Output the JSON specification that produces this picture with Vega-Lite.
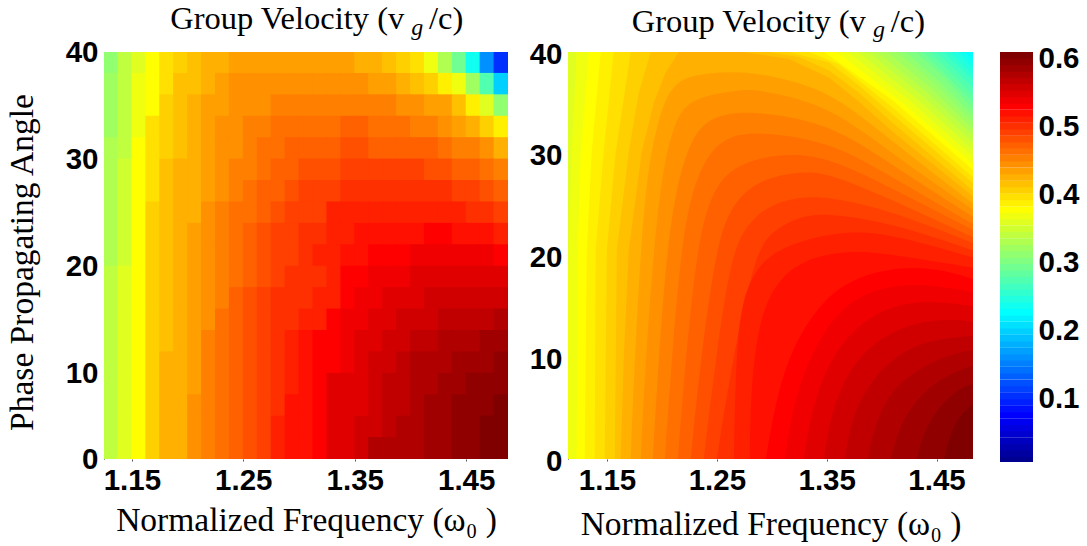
{"$schema":"https://vega.github.io/schema/vega-lite/v6.json","background":"white","padding":{"left":5,"top":2,"right":4,"bottom":3},
"config":{"view":{"stroke":null},"axis":{"grid":false,"labelFont":"Liberation Sans","labelFontWeight":"bold","labelFontSize":29.5,"labelColor":"#000","titleFont":"Liberation Serif","titleFontWeight":"normal","titleFontSize":33.5,"titleColor":"#000","domainColor":"#222","tickColor":"#555"}},
"spacing":27,
"hconcat":[{"spacing":60,"bounds":"flush","hconcat":[
{"width":404,"height":407,
"layer":[{"mark":{"type":"rect","width":15,"height":22.4,"clip":true},
"data":{"values":[
{"f":1.1313,"a":39,"v":0.307},{"f":1.1438,"a":39,"v":0.336},{"f":1.1563,"a":39,"v":0.355},{"f":1.1688,"a":39,"v":0.373},{"f":1.1813,"a":39,"v":0.392},{"f":1.1938,"a":39,"v":0.402},{"f":1.2063,"a":39,"v":0.411},{"f":1.2188,"a":39,"v":0.421},{"f":1.2313,"a":39,"v":0.421},{"f":1.2438,"a":39,"v":0.43},{"f":1.2563,"a":39,"v":0.43},{"f":1.2688,"a":39,"v":0.43},{"f":1.2813,"a":39,"v":0.43},{"f":1.2938,"a":39,"v":0.43},{"f":1.3063,"a":39,"v":0.43},{"f":1.3188,"a":39,"v":0.43},{"f":1.3313,"a":39,"v":0.43},{"f":1.3438,"a":39,"v":0.43},{"f":1.3563,"a":39,"v":0.421},{"f":1.3688,"a":39,"v":0.421},{"f":1.3813,"a":39,"v":0.411},{"f":1.3938,"a":39,"v":0.402},{"f":1.4063,"a":39,"v":0.392},{"f":1.4188,"a":39,"v":0.364},{"f":1.4313,"a":39,"v":0.326},{"f":1.4438,"a":39,"v":0.288},{"f":1.4563,"a":39,"v":0.232},{"f":1.4688,"a":39,"v":0.156},{"f":1.4813,"a":39,"v":0.099},
{"f":1.1313,"a":37,"v":0.317},{"f":1.1438,"a":37,"v":0.336},{"f":1.1563,"a":37,"v":0.364},{"f":1.1688,"a":37,"v":0.373},{"f":1.1813,"a":37,"v":0.392},{"f":1.1938,"a":37,"v":0.411},{"f":1.2063,"a":37,"v":0.411},{"f":1.2188,"a":37,"v":0.421},{"f":1.2313,"a":37,"v":0.43},{"f":1.2438,"a":37,"v":0.44},{"f":1.2563,"a":37,"v":0.44},{"f":1.2688,"a":37,"v":0.44},{"f":1.2813,"a":37,"v":0.44},{"f":1.2938,"a":37,"v":0.44},{"f":1.3063,"a":37,"v":0.44},{"f":1.3188,"a":37,"v":0.44},{"f":1.3313,"a":37,"v":0.44},{"f":1.3438,"a":37,"v":0.44},{"f":1.3563,"a":37,"v":0.44},{"f":1.3688,"a":37,"v":0.43},{"f":1.3813,"a":37,"v":0.43},{"f":1.3938,"a":37,"v":0.421},{"f":1.4063,"a":37,"v":0.411},{"f":1.4188,"a":37,"v":0.402},{"f":1.4313,"a":37,"v":0.383},{"f":1.4438,"a":37,"v":0.364},{"f":1.4563,"a":37,"v":0.317},{"f":1.4688,"a":37,"v":0.269},{"f":1.4813,"a":37,"v":0.194},
{"f":1.1313,"a":35,"v":0.317},{"f":1.1438,"a":35,"v":0.336},{"f":1.1563,"a":35,"v":0.364},{"f":1.1688,"a":35,"v":0.373},{"f":1.1813,"a":35,"v":0.402},{"f":1.1938,"a":35,"v":0.411},{"f":1.2063,"a":35,"v":0.421},{"f":1.2188,"a":35,"v":0.43},{"f":1.2313,"a":35,"v":0.43},{"f":1.2438,"a":35,"v":0.44},{"f":1.2563,"a":35,"v":0.44},{"f":1.2688,"a":35,"v":0.44},{"f":1.2813,"a":35,"v":0.449},{"f":1.2938,"a":35,"v":0.449},{"f":1.3063,"a":35,"v":0.449},{"f":1.3188,"a":35,"v":0.449},{"f":1.3313,"a":35,"v":0.449},{"f":1.3438,"a":35,"v":0.449},{"f":1.3563,"a":35,"v":0.449},{"f":1.3688,"a":35,"v":0.449},{"f":1.3813,"a":35,"v":0.449},{"f":1.3938,"a":35,"v":0.44},{"f":1.4063,"a":35,"v":0.44},{"f":1.4188,"a":35,"v":0.43},{"f":1.4313,"a":35,"v":0.43},{"f":1.4438,"a":35,"v":0.411},{"f":1.4563,"a":35,"v":0.383},{"f":1.4688,"a":35,"v":0.355},{"f":1.4813,"a":35,"v":0.307},
{"f":1.1313,"a":33,"v":0.317},{"f":1.1438,"a":33,"v":0.336},{"f":1.1563,"a":33,"v":0.364},{"f":1.1688,"a":33,"v":0.392},{"f":1.1813,"a":33,"v":0.402},{"f":1.1938,"a":33,"v":0.411},{"f":1.2063,"a":33,"v":0.421},{"f":1.2188,"a":33,"v":0.43},{"f":1.2313,"a":33,"v":0.44},{"f":1.2438,"a":33,"v":0.44},{"f":1.2563,"a":33,"v":0.449},{"f":1.2688,"a":33,"v":0.449},{"f":1.2813,"a":33,"v":0.459},{"f":1.2938,"a":33,"v":0.459},{"f":1.3063,"a":33,"v":0.459},{"f":1.3188,"a":33,"v":0.459},{"f":1.3313,"a":33,"v":0.459},{"f":1.3438,"a":33,"v":0.468},{"f":1.3563,"a":33,"v":0.468},{"f":1.3688,"a":33,"v":0.459},{"f":1.3813,"a":33,"v":0.459},{"f":1.3938,"a":33,"v":0.459},{"f":1.4063,"a":33,"v":0.449},{"f":1.4188,"a":33,"v":0.449},{"f":1.4313,"a":33,"v":0.44},{"f":1.4438,"a":33,"v":0.43},{"f":1.4563,"a":33,"v":0.421},{"f":1.4688,"a":33,"v":0.402},{"f":1.4813,"a":33,"v":0.383},
{"f":1.1313,"a":31,"v":0.326},{"f":1.1438,"a":31,"v":0.336},{"f":1.1563,"a":31,"v":0.373},{"f":1.1688,"a":31,"v":0.392},{"f":1.1813,"a":31,"v":0.402},{"f":1.1938,"a":31,"v":0.411},{"f":1.2063,"a":31,"v":0.421},{"f":1.2188,"a":31,"v":0.43},{"f":1.2313,"a":31,"v":0.44},{"f":1.2438,"a":31,"v":0.44},{"f":1.2563,"a":31,"v":0.449},{"f":1.2688,"a":31,"v":0.459},{"f":1.2813,"a":31,"v":0.459},{"f":1.2938,"a":31,"v":0.468},{"f":1.3063,"a":31,"v":0.468},{"f":1.3188,"a":31,"v":0.468},{"f":1.3313,"a":31,"v":0.468},{"f":1.3438,"a":31,"v":0.477},{"f":1.3563,"a":31,"v":0.477},{"f":1.3688,"a":31,"v":0.468},{"f":1.3813,"a":31,"v":0.468},{"f":1.3938,"a":31,"v":0.468},{"f":1.4063,"a":31,"v":0.468},{"f":1.4188,"a":31,"v":0.468},{"f":1.4313,"a":31,"v":0.459},{"f":1.4438,"a":31,"v":0.449},{"f":1.4563,"a":31,"v":0.449},{"f":1.4688,"a":31,"v":0.44},{"f":1.4813,"a":31,"v":0.421},
{"f":1.1313,"a":29,"v":0.326},{"f":1.1438,"a":29,"v":0.345},{"f":1.1563,"a":29,"v":0.373},{"f":1.1688,"a":29,"v":0.392},{"f":1.1813,"a":29,"v":0.411},{"f":1.1938,"a":29,"v":0.421},{"f":1.2063,"a":29,"v":0.421},{"f":1.2188,"a":29,"v":0.43},{"f":1.2313,"a":29,"v":0.44},{"f":1.2438,"a":29,"v":0.449},{"f":1.2563,"a":29,"v":0.449},{"f":1.2688,"a":29,"v":0.459},{"f":1.2813,"a":29,"v":0.468},{"f":1.2938,"a":29,"v":0.468},{"f":1.3063,"a":29,"v":0.477},{"f":1.3188,"a":29,"v":0.477},{"f":1.3313,"a":29,"v":0.477},{"f":1.3438,"a":29,"v":0.487},{"f":1.3563,"a":29,"v":0.487},{"f":1.3688,"a":29,"v":0.487},{"f":1.3813,"a":29,"v":0.487},{"f":1.3938,"a":29,"v":0.487},{"f":1.4063,"a":29,"v":0.487},{"f":1.4188,"a":29,"v":0.477},{"f":1.4313,"a":29,"v":0.477},{"f":1.4438,"a":29,"v":0.468},{"f":1.4563,"a":29,"v":0.468},{"f":1.4688,"a":29,"v":0.459},{"f":1.4813,"a":29,"v":0.449},
{"f":1.1313,"a":27,"v":0.326},{"f":1.1438,"a":27,"v":0.345},{"f":1.1563,"a":27,"v":0.373},{"f":1.1688,"a":27,"v":0.392},{"f":1.1813,"a":27,"v":0.411},{"f":1.1938,"a":27,"v":0.421},{"f":1.2063,"a":27,"v":0.421},{"f":1.2188,"a":27,"v":0.43},{"f":1.2313,"a":27,"v":0.44},{"f":1.2438,"a":27,"v":0.449},{"f":1.2563,"a":27,"v":0.459},{"f":1.2688,"a":27,"v":0.468},{"f":1.2813,"a":27,"v":0.468},{"f":1.2938,"a":27,"v":0.477},{"f":1.3063,"a":27,"v":0.487},{"f":1.3188,"a":27,"v":0.487},{"f":1.3313,"a":27,"v":0.487},{"f":1.3438,"a":27,"v":0.496},{"f":1.3563,"a":27,"v":0.496},{"f":1.3688,"a":27,"v":0.496},{"f":1.3813,"a":27,"v":0.496},{"f":1.3938,"a":27,"v":0.496},{"f":1.4063,"a":27,"v":0.496},{"f":1.4188,"a":27,"v":0.496},{"f":1.4313,"a":27,"v":0.496},{"f":1.4438,"a":27,"v":0.487},{"f":1.4563,"a":27,"v":0.487},{"f":1.4688,"a":27,"v":0.477},{"f":1.4813,"a":27,"v":0.468},
{"f":1.1313,"a":25,"v":0.326},{"f":1.1438,"a":25,"v":0.345},{"f":1.1563,"a":25,"v":0.373},{"f":1.1688,"a":25,"v":0.402},{"f":1.1813,"a":25,"v":0.411},{"f":1.1938,"a":25,"v":0.421},{"f":1.2063,"a":25,"v":0.421},{"f":1.2188,"a":25,"v":0.44},{"f":1.2313,"a":25,"v":0.449},{"f":1.2438,"a":25,"v":0.459},{"f":1.2563,"a":25,"v":0.459},{"f":1.2688,"a":25,"v":0.468},{"f":1.2813,"a":25,"v":0.477},{"f":1.2938,"a":25,"v":0.487},{"f":1.3063,"a":25,"v":0.487},{"f":1.3188,"a":25,"v":0.487},{"f":1.3313,"a":25,"v":0.506},{"f":1.3438,"a":25,"v":0.506},{"f":1.3563,"a":25,"v":0.506},{"f":1.3688,"a":25,"v":0.506},{"f":1.3813,"a":25,"v":0.506},{"f":1.3938,"a":25,"v":0.506},{"f":1.4063,"a":25,"v":0.506},{"f":1.4188,"a":25,"v":0.506},{"f":1.4313,"a":25,"v":0.506},{"f":1.4438,"a":25,"v":0.506},{"f":1.4563,"a":25,"v":0.496},{"f":1.4688,"a":25,"v":0.496},{"f":1.4813,"a":25,"v":0.487},
{"f":1.1313,"a":23,"v":0.326},{"f":1.1438,"a":23,"v":0.345},{"f":1.1563,"a":23,"v":0.373},{"f":1.1688,"a":23,"v":0.402},{"f":1.1813,"a":23,"v":0.411},{"f":1.1938,"a":23,"v":0.421},{"f":1.2063,"a":23,"v":0.43},{"f":1.2188,"a":23,"v":0.44},{"f":1.2313,"a":23,"v":0.449},{"f":1.2438,"a":23,"v":0.459},{"f":1.2563,"a":23,"v":0.468},{"f":1.2688,"a":23,"v":0.477},{"f":1.2813,"a":23,"v":0.487},{"f":1.2938,"a":23,"v":0.487},{"f":1.3063,"a":23,"v":0.496},{"f":1.3188,"a":23,"v":0.496},{"f":1.3313,"a":23,"v":0.506},{"f":1.3438,"a":23,"v":0.506},{"f":1.3563,"a":23,"v":0.515},{"f":1.3688,"a":23,"v":0.515},{"f":1.3813,"a":23,"v":0.515},{"f":1.3938,"a":23,"v":0.515},{"f":1.4063,"a":23,"v":0.515},{"f":1.4188,"a":23,"v":0.525},{"f":1.4313,"a":23,"v":0.525},{"f":1.4438,"a":23,"v":0.515},{"f":1.4563,"a":23,"v":0.515},{"f":1.4688,"a":23,"v":0.515},{"f":1.4813,"a":23,"v":0.506},
{"f":1.1313,"a":21,"v":0.326},{"f":1.1438,"a":21,"v":0.345},{"f":1.1563,"a":21,"v":0.373},{"f":1.1688,"a":21,"v":0.402},{"f":1.1813,"a":21,"v":0.411},{"f":1.1938,"a":21,"v":0.421},{"f":1.2063,"a":21,"v":0.43},{"f":1.2188,"a":21,"v":0.44},{"f":1.2313,"a":21,"v":0.449},{"f":1.2438,"a":21,"v":0.459},{"f":1.2563,"a":21,"v":0.468},{"f":1.2688,"a":21,"v":0.477},{"f":1.2813,"a":21,"v":0.487},{"f":1.2938,"a":21,"v":0.487},{"f":1.3063,"a":21,"v":0.496},{"f":1.3188,"a":21,"v":0.506},{"f":1.3313,"a":21,"v":0.506},{"f":1.3438,"a":21,"v":0.515},{"f":1.3563,"a":21,"v":0.515},{"f":1.3688,"a":21,"v":0.525},{"f":1.3813,"a":21,"v":0.525},{"f":1.3938,"a":21,"v":0.525},{"f":1.4063,"a":21,"v":0.534},{"f":1.4188,"a":21,"v":0.534},{"f":1.4313,"a":21,"v":0.534},{"f":1.4438,"a":21,"v":0.534},{"f":1.4563,"a":21,"v":0.534},{"f":1.4688,"a":21,"v":0.534},{"f":1.4813,"a":21,"v":0.525},
{"f":1.1313,"a":19,"v":0.336},{"f":1.1438,"a":19,"v":0.355},{"f":1.1563,"a":19,"v":0.373},{"f":1.1688,"a":19,"v":0.402},{"f":1.1813,"a":19,"v":0.411},{"f":1.1938,"a":19,"v":0.421},{"f":1.2063,"a":19,"v":0.43},{"f":1.2188,"a":19,"v":0.44},{"f":1.2313,"a":19,"v":0.449},{"f":1.2438,"a":19,"v":0.459},{"f":1.2563,"a":19,"v":0.468},{"f":1.2688,"a":19,"v":0.477},{"f":1.2813,"a":19,"v":0.487},{"f":1.2938,"a":19,"v":0.496},{"f":1.3063,"a":19,"v":0.496},{"f":1.3188,"a":19,"v":0.496},{"f":1.3313,"a":19,"v":0.506},{"f":1.3438,"a":19,"v":0.525},{"f":1.3563,"a":19,"v":0.525},{"f":1.3688,"a":19,"v":0.534},{"f":1.3813,"a":19,"v":0.534},{"f":1.3938,"a":19,"v":0.534},{"f":1.4063,"a":19,"v":0.544},{"f":1.4188,"a":19,"v":0.544},{"f":1.4313,"a":19,"v":0.544},{"f":1.4438,"a":19,"v":0.544},{"f":1.4563,"a":19,"v":0.544},{"f":1.4688,"a":19,"v":0.544},{"f":1.4813,"a":19,"v":0.544},
{"f":1.1313,"a":17,"v":0.336},{"f":1.1438,"a":17,"v":0.355},{"f":1.1563,"a":17,"v":0.373},{"f":1.1688,"a":17,"v":0.402},{"f":1.1813,"a":17,"v":0.411},{"f":1.1938,"a":17,"v":0.421},{"f":1.2063,"a":17,"v":0.43},{"f":1.2188,"a":17,"v":0.44},{"f":1.2313,"a":17,"v":0.449},{"f":1.2438,"a":17,"v":0.468},{"f":1.2563,"a":17,"v":0.477},{"f":1.2688,"a":17,"v":0.487},{"f":1.2813,"a":17,"v":0.496},{"f":1.2938,"a":17,"v":0.496},{"f":1.3063,"a":17,"v":0.496},{"f":1.3188,"a":17,"v":0.506},{"f":1.3313,"a":17,"v":0.506},{"f":1.3438,"a":17,"v":0.525},{"f":1.3563,"a":17,"v":0.534},{"f":1.3688,"a":17,"v":0.534},{"f":1.3813,"a":17,"v":0.544},{"f":1.3938,"a":17,"v":0.544},{"f":1.4063,"a":17,"v":0.544},{"f":1.4188,"a":17,"v":0.553},{"f":1.4313,"a":17,"v":0.553},{"f":1.4438,"a":17,"v":0.553},{"f":1.4563,"a":17,"v":0.553},{"f":1.4688,"a":17,"v":0.553},{"f":1.4813,"a":17,"v":0.553},
{"f":1.1313,"a":15,"v":0.336},{"f":1.1438,"a":15,"v":0.355},{"f":1.1563,"a":15,"v":0.373},{"f":1.1688,"a":15,"v":0.402},{"f":1.1813,"a":15,"v":0.411},{"f":1.1938,"a":15,"v":0.421},{"f":1.2063,"a":15,"v":0.43},{"f":1.2188,"a":15,"v":0.44},{"f":1.2313,"a":15,"v":0.459},{"f":1.2438,"a":15,"v":0.468},{"f":1.2563,"a":15,"v":0.477},{"f":1.2688,"a":15,"v":0.487},{"f":1.2813,"a":15,"v":0.496},{"f":1.2938,"a":15,"v":0.496},{"f":1.3063,"a":15,"v":0.506},{"f":1.3188,"a":15,"v":0.506},{"f":1.3313,"a":15,"v":0.525},{"f":1.3438,"a":15,"v":0.534},{"f":1.3563,"a":15,"v":0.534},{"f":1.3688,"a":15,"v":0.544},{"f":1.3813,"a":15,"v":0.544},{"f":1.3938,"a":15,"v":0.553},{"f":1.4063,"a":15,"v":0.553},{"f":1.4188,"a":15,"v":0.553},{"f":1.4313,"a":15,"v":0.563},{"f":1.4438,"a":15,"v":0.563},{"f":1.4563,"a":15,"v":0.563},{"f":1.4688,"a":15,"v":0.563},{"f":1.4813,"a":15,"v":0.572},
{"f":1.1313,"a":13,"v":0.336},{"f":1.1438,"a":13,"v":0.355},{"f":1.1563,"a":13,"v":0.373},{"f":1.1688,"a":13,"v":0.402},{"f":1.1813,"a":13,"v":0.411},{"f":1.1938,"a":13,"v":0.421},{"f":1.2063,"a":13,"v":0.43},{"f":1.2188,"a":13,"v":0.449},{"f":1.2313,"a":13,"v":0.459},{"f":1.2438,"a":13,"v":0.468},{"f":1.2563,"a":13,"v":0.477},{"f":1.2688,"a":13,"v":0.487},{"f":1.2813,"a":13,"v":0.496},{"f":1.2938,"a":13,"v":0.506},{"f":1.3063,"a":13,"v":0.515},{"f":1.3188,"a":13,"v":0.525},{"f":1.3313,"a":13,"v":0.525},{"f":1.3438,"a":13,"v":0.534},{"f":1.3563,"a":13,"v":0.544},{"f":1.3688,"a":13,"v":0.544},{"f":1.3813,"a":13,"v":0.553},{"f":1.3938,"a":13,"v":0.553},{"f":1.4063,"a":13,"v":0.563},{"f":1.4188,"a":13,"v":0.563},{"f":1.4313,"a":13,"v":0.572},{"f":1.4438,"a":13,"v":0.572},{"f":1.4563,"a":13,"v":0.572},{"f":1.4688,"a":13,"v":0.581},{"f":1.4813,"a":13,"v":0.581},
{"f":1.1313,"a":11,"v":0.336},{"f":1.1438,"a":11,"v":0.355},{"f":1.1563,"a":11,"v":0.373},{"f":1.1688,"a":11,"v":0.402},{"f":1.1813,"a":11,"v":0.421},{"f":1.1938,"a":11,"v":0.421},{"f":1.2063,"a":11,"v":0.43},{"f":1.2188,"a":11,"v":0.449},{"f":1.2313,"a":11,"v":0.459},{"f":1.2438,"a":11,"v":0.468},{"f":1.2563,"a":11,"v":0.477},{"f":1.2688,"a":11,"v":0.487},{"f":1.2813,"a":11,"v":0.496},{"f":1.2938,"a":11,"v":0.506},{"f":1.3063,"a":11,"v":0.515},{"f":1.3188,"a":11,"v":0.525},{"f":1.3313,"a":11,"v":0.525},{"f":1.3438,"a":11,"v":0.534},{"f":1.3563,"a":11,"v":0.544},{"f":1.3688,"a":11,"v":0.553},{"f":1.3813,"a":11,"v":0.553},{"f":1.3938,"a":11,"v":0.563},{"f":1.4063,"a":11,"v":0.572},{"f":1.4188,"a":11,"v":0.572},{"f":1.4313,"a":11,"v":0.572},{"f":1.4438,"a":11,"v":0.581},{"f":1.4563,"a":11,"v":0.581},{"f":1.4688,"a":11,"v":0.581},{"f":1.4813,"a":11,"v":0.591},
{"f":1.1313,"a":9,"v":0.336},{"f":1.1438,"a":9,"v":0.355},{"f":1.1563,"a":9,"v":0.373},{"f":1.1688,"a":9,"v":0.402},{"f":1.1813,"a":9,"v":0.421},{"f":1.1938,"a":9,"v":0.421},{"f":1.2063,"a":9,"v":0.43},{"f":1.2188,"a":9,"v":0.449},{"f":1.2313,"a":9,"v":0.459},{"f":1.2438,"a":9,"v":0.468},{"f":1.2563,"a":9,"v":0.477},{"f":1.2688,"a":9,"v":0.487},{"f":1.2813,"a":9,"v":0.496},{"f":1.2938,"a":9,"v":0.506},{"f":1.3063,"a":9,"v":0.515},{"f":1.3188,"a":9,"v":0.525},{"f":1.3313,"a":9,"v":0.544},{"f":1.3438,"a":9,"v":0.544},{"f":1.3563,"a":9,"v":0.544},{"f":1.3688,"a":9,"v":0.553},{"f":1.3813,"a":9,"v":0.563},{"f":1.3938,"a":9,"v":0.563},{"f":1.4063,"a":9,"v":0.572},{"f":1.4188,"a":9,"v":0.572},{"f":1.4313,"a":9,"v":0.581},{"f":1.4438,"a":9,"v":0.581},{"f":1.4563,"a":9,"v":0.591},{"f":1.4688,"a":9,"v":0.591},{"f":1.4813,"a":9,"v":0.591},
{"f":1.1313,"a":7,"v":0.336},{"f":1.1438,"a":7,"v":0.355},{"f":1.1563,"a":7,"v":0.373},{"f":1.1688,"a":7,"v":0.402},{"f":1.1813,"a":7,"v":0.421},{"f":1.1938,"a":7,"v":0.421},{"f":1.2063,"a":7,"v":0.44},{"f":1.2188,"a":7,"v":0.449},{"f":1.2313,"a":7,"v":0.459},{"f":1.2438,"a":7,"v":0.468},{"f":1.2563,"a":7,"v":0.477},{"f":1.2688,"a":7,"v":0.487},{"f":1.2813,"a":7,"v":0.496},{"f":1.2938,"a":7,"v":0.515},{"f":1.3063,"a":7,"v":0.515},{"f":1.3188,"a":7,"v":0.525},{"f":1.3313,"a":7,"v":0.544},{"f":1.3438,"a":7,"v":0.544},{"f":1.3563,"a":7,"v":0.544},{"f":1.3688,"a":7,"v":0.553},{"f":1.3813,"a":7,"v":0.563},{"f":1.3938,"a":7,"v":0.563},{"f":1.4063,"a":7,"v":0.572},{"f":1.4188,"a":7,"v":0.581},{"f":1.4313,"a":7,"v":0.581},{"f":1.4438,"a":7,"v":0.591},{"f":1.4563,"a":7,"v":0.591},{"f":1.4688,"a":7,"v":0.591},{"f":1.4813,"a":7,"v":0.6},
{"f":1.1313,"a":5,"v":0.336},{"f":1.1438,"a":5,"v":0.355},{"f":1.1563,"a":5,"v":0.373},{"f":1.1688,"a":5,"v":0.402},{"f":1.1813,"a":5,"v":0.421},{"f":1.1938,"a":5,"v":0.421},{"f":1.2063,"a":5,"v":0.44},{"f":1.2188,"a":5,"v":0.449},{"f":1.2313,"a":5,"v":0.459},{"f":1.2438,"a":5,"v":0.468},{"f":1.2563,"a":5,"v":0.477},{"f":1.2688,"a":5,"v":0.487},{"f":1.2813,"a":5,"v":0.506},{"f":1.2938,"a":5,"v":0.515},{"f":1.3063,"a":5,"v":0.515},{"f":1.3188,"a":5,"v":0.525},{"f":1.3313,"a":5,"v":0.544},{"f":1.3438,"a":5,"v":0.544},{"f":1.3563,"a":5,"v":0.553},{"f":1.3688,"a":5,"v":0.553},{"f":1.3813,"a":5,"v":0.563},{"f":1.3938,"a":5,"v":0.572},{"f":1.4063,"a":5,"v":0.572},{"f":1.4188,"a":5,"v":0.581},{"f":1.4313,"a":5,"v":0.581},{"f":1.4438,"a":5,"v":0.591},{"f":1.4563,"a":5,"v":0.591},{"f":1.4688,"a":5,"v":0.6},{"f":1.4813,"a":5,"v":0.6},
{"f":1.1313,"a":3,"v":0.336},{"f":1.1438,"a":3,"v":0.355},{"f":1.1563,"a":3,"v":0.373},{"f":1.1688,"a":3,"v":0.402},{"f":1.1813,"a":3,"v":0.421},{"f":1.1938,"a":3,"v":0.421},{"f":1.2063,"a":3,"v":0.44},{"f":1.2188,"a":3,"v":0.449},{"f":1.2313,"a":3,"v":0.459},{"f":1.2438,"a":3,"v":0.468},{"f":1.2563,"a":3,"v":0.477},{"f":1.2688,"a":3,"v":0.487},{"f":1.2813,"a":3,"v":0.506},{"f":1.2938,"a":3,"v":0.515},{"f":1.3063,"a":3,"v":0.515},{"f":1.3188,"a":3,"v":0.525},{"f":1.3313,"a":3,"v":0.544},{"f":1.3438,"a":3,"v":0.544},{"f":1.3563,"a":3,"v":0.553},{"f":1.3688,"a":3,"v":0.572},{"f":1.3813,"a":3,"v":0.572},{"f":1.3938,"a":3,"v":0.572},{"f":1.4063,"a":3,"v":0.572},{"f":1.4188,"a":3,"v":0.581},{"f":1.4313,"a":3,"v":0.581},{"f":1.4438,"a":3,"v":0.591},{"f":1.4563,"a":3,"v":0.591},{"f":1.4688,"a":3,"v":0.6},{"f":1.4813,"a":3,"v":0.6}
]},
"encoding":{"x":{"field":"f","type":"quantitative","scale":{"domain":[1.125,1.4875]},"axis":{"values":[1.15,1.25,1.35,1.45],"format":".2f","title":"Normalized Frequency (ω₀ )","domain":false,"tickSize":2,"labelPadding":5,"titlePadding":10}},
"y":{"field":"a","type":"quantitative","scale":{"domain":[2,40]},"axis":{"values":[2,10,20,30,40],"labelExpr":"datum.value==2?'0':datum.label","title":"Phase Propagating Angle","titleY":210,"tickSize":0,"labelPadding":6,"titlePadding":26}},
"color":{"field":"v","type":"quantitative","legend":null,"scale":{"type":"quantize","domain":[0,0.605],"range":["#000090","#0000A0","#0000B0","#0000C0","#0000D0","#0000E0","#0000F0","#0000FF","#0010FF","#0020FF","#0030FF","#0040FF","#0050FF","#0060FF","#0070FF","#0080FF","#0090FF","#00A0FF","#00B0FF","#00C0FF","#00D0FF","#00E0FF","#00F0FF","#00FFFF","#10FFF0","#20FFE0","#30FFD0","#40FFC0","#50FFB0","#60FFA0","#70FF90","#80FF80","#90FF70","#A0FF60","#B0FF50","#C0FF40","#D0FF30","#E0FF20","#F0FF10","#FFFF00","#FFF000","#FFE000","#FFD000","#FFC000","#FFB000","#FFA000","#FF9000","#FF8000","#FF7000","#FF6000","#FF5000","#FF4000","#FF3000","#FF2000","#FF1000","#FF0000","#F00000","#E00000","#D00000","#C00000","#B00000","#A00000","#900000","#800000"]}}}},
{"mark":{"type":"text","font":"Liberation Serif","fontSize":32.5,"baseline":"alphabetic"},"data":{"values":[{"f":1.2894,"a":42.18,"t":"Group Velocity (v"},{"f":1.432,"a":42.18,"t":"/c)"}]},"encoding":{"x":{"field":"f","type":"quantitative","scale":{"domain":[1.125,1.4875]}},"y":{"field":"a","type":"quantitative","scale":{"domain":[2,40]}},"text":{"field":"t"}}},
{"mark":{"type":"text","font":"Liberation Serif","fontStyle":"italic","fontSize":24,"baseline":"alphabetic"},"data":{"values":[{"f":1.4061,"a":41.6,"t":"g"}]},"encoding":{"x":{"field":"f","type":"quantitative","scale":{"domain":[1.125,1.4875]}},"y":{"field":"a","type":"quantitative","scale":{"domain":[2,40]}},"text":{"field":"t"}}}]},
{"width":405,"height":407,
"layer":[{"encoding":{"x":{"field":"f","type":"quantitative","scale":{"domain":[1.1145,1.4832]},"axis":{"values":[1.15,1.25,1.35,1.45],"format":".2f","title":"Normalized Frequency (ω₀ )","domain":false,"tickSize":2,"labelPadding":5,"titlePadding":14}},
"y":{"field":"a","type":"quantitative","stack":null,"scale":{"domain":[0,40]},"axis":{"values":[0,10,20,30,40],"title":null,"tickSize":0,"labelPadding":6,"labelOffset":2}},
"y2":{"datum":0},
"detail":{"field":"v","type":"nominal"},
"color":{"field":"v","type":"quantitative","legend":null,"scale":{"type":"quantize","domain":[0,0.605],"range":["#000090","#0000A0","#0000B0","#0000C0","#0000D0","#0000E0","#0000F0","#0000FF","#0010FF","#0020FF","#0030FF","#0040FF","#0050FF","#0060FF","#0070FF","#0080FF","#0090FF","#00A0FF","#00B0FF","#00C0FF","#00D0FF","#00E0FF","#00F0FF","#00FFFF","#10FFF0","#20FFE0","#30FFD0","#40FFC0","#50FFB0","#60FFA0","#70FF90","#80FF80","#90FF70","#A0FF60","#B0FF50","#C0FF40","#D0FF30","#E0FF20","#F0FF10","#FFFF00","#FFF000","#FFE000","#FFD000","#FFC000","#FFB000","#FFA000","#FF9000","#FF8000","#FF7000","#FF6000","#FF5000","#FF4000","#FF3000","#FF2000","#FF1000","#FF0000","#F00000","#E00000","#D00000","#C00000","#B00000","#A00000","#900000","#800000"]}}},
"layer":[{"mark":{"type":"area","interpolate":"linear","clip":true},
"data":{"values":[
{"f":1.1145,"a":40,"v":0.222},{"f":1.4832,"a":40,"v":0.222},
{"f":1.1145,"a":40,"v":0.232},{"f":1.4759,"a":40,"v":0.232},{"f":1.4832,"a":39.1,"v":0.232},
{"f":1.1145,"a":40,"v":0.241},{"f":1.4695,"a":40,"v":0.241},{"f":1.4832,"a":38.5,"v":0.241},
{"f":1.1145,"a":40,"v":0.251},{"f":1.4631,"a":40,"v":0.251},{"f":1.4832,"a":37.8,"v":0.251},
{"f":1.1145,"a":40,"v":0.26},{"f":1.4568,"a":40,"v":0.26},{"f":1.4832,"a":37.2,"v":0.26},
{"f":1.1145,"a":40,"v":0.269},{"f":1.4504,"a":40,"v":0.269},{"f":1.4832,"a":36.5,"v":0.269},
{"f":1.1145,"a":40,"v":0.279},{"f":1.444,"a":40,"v":0.279},{"f":1.4832,"a":35.8,"v":0.279},
{"f":1.1145,"a":40,"v":0.288},{"f":1.4376,"a":40,"v":0.288},{"f":1.4832,"a":35.1,"v":0.288},
{"f":1.1145,"a":40,"v":0.298},{"f":1.4313,"a":40,"v":0.298},{"f":1.4572,"a":37.5,"v":0.298},{"f":1.4832,"a":34.4,"v":0.298},
{"f":1.1145,"a":40,"v":0.307},{"f":1.4222,"a":40,"v":0.307},{"f":1.4527,"a":37.15,"v":0.307},{"f":1.4832,"a":33.7,"v":0.307},
{"f":1.1145,"a":40,"v":0.317},{"f":1.414,"a":40,"v":0.317},{"f":1.4486,"a":36.85,"v":0.317},{"f":1.4832,"a":33.1,"v":0.317},
{"f":1.1145,"a":40,"v":0.326},{"f":1.4049,"a":40,"v":0.326},{"f":1.444,"a":36.5,"v":0.326},{"f":1.4832,"a":32.4,"v":0.326},
{"f":1.1145,"a":40,"v":0.336},{"f":1.3957,"a":40,"v":0.336},{"f":1.4395,"a":36.2,"v":0.336},{"f":1.4832,"a":31.8,"v":0.336},
{"f":1.1145,"a":40,"v":0.345},{"f":1.3875,"a":40,"v":0.345},{"f":1.4354,"a":35.85,"v":0.345},{"f":1.4832,"a":31.1,"v":0.345},
{"f":1.1145,"a":40,"v":0.355},{"f":1.3784,"a":40,"v":0.355},{"f":1.4308,"a":35.5,"v":0.355},{"f":1.4832,"a":30.4,"v":0.355},
{"f":1.1145,"a":18,"v":0.364},{"f":1.1179,"a":30,"v":0.364},{"f":1.1224,"a":40,"v":0.364},{"f":1.3693,"a":40,"v":0.364},{"f":1.4263,"a":35.15,"v":0.364},{"f":1.4832,"a":29.7,"v":0.364},
{"f":1.1224,"a":0,"v":0.373},{"f":1.1233,"a":20.5,"v":0.373},{"f":1.1261,"a":30,"v":0.373},{"f":1.1334,"a":40,"v":0.373},{"f":1.3593,"a":40,"v":0.373},{"f":1.4213,"a":34.8,"v":0.373},{"f":1.4832,"a":29,"v":0.373},
{"f":1.1297,"a":0,"v":0.383},{"f":1.1316,"a":20.5,"v":0.383},{"f":1.1361,"a":30.2,"v":0.383},{"f":1.1443,"a":40,"v":0.383},{"f":1.3475,"a":40,"v":0.383},{"f":1.4094,"a":35.3,"v":0.383},{"f":1.4832,"a":28.4,"v":0.383},
{"f":1.1388,"a":0,"v":0.392},{"f":1.1397,"a":20.5,"v":0.392},{"f":1.147,"a":30.2,"v":0.392},{"f":1.1561,"a":40,"v":0.392},{"f":1.3338,"a":40,"v":0.392},{"f":1.3611,"a":38.8,"v":0.392},{"f":1.4094,"a":34.6,"v":0.392},{"f":1.4832,"a":27.7,"v":0.392},
{"f":1.1479,"a":0,"v":0.402},{"f":1.1498,"a":20.5,"v":0.402},{"f":1.158,"a":30.2,"v":0.402},{"f":1.1716,"a":40,"v":0.402},{"f":1.3156,"a":40,"v":0.402},{"f":1.352,"a":39,"v":0.402},{"f":1.3793,"a":36.7,"v":0.402},{"f":1.4094,"a":33.9,"v":0.402},{"f":1.4832,"a":27.1,"v":0.402},
{"f":1.1571,"a":0,"v":0.411},{"f":1.1589,"a":20.5,"v":0.411},{"f":1.1698,"a":30.2,"v":0.411},{"f":1.1789,"a":36,"v":0.411},{"f":1.1898,"a":40,"v":0.411},{"f":1.2974,"a":40,"v":0.411},{"f":1.3247,"a":39.5,"v":0.411},{"f":1.352,"a":38.2,"v":0.411},{"f":1.3793,"a":36,"v":0.411},{"f":1.4094,"a":33.1,"v":0.411},{"f":1.4832,"a":26.4,"v":0.411},
{"f":1.1625,"a":0,"v":0.421},{"f":1.1653,"a":10,"v":0.421},{"f":1.1698,"a":20.5,"v":0.421},{"f":1.1817,"a":30.2,"v":0.421},{"f":1.1926,"a":35,"v":0.421},{"f":1.2035,"a":38,"v":0.421},{"f":1.2154,"a":40,"v":0.421},{"f":1.2746,"a":40,"v":0.421},{"f":1.3156,"a":39.3,"v":0.421},{"f":1.352,"a":37.5,"v":0.421},{"f":1.3793,"a":35.1,"v":0.421},{"f":1.4094,"a":32.2,"v":0.421},{"f":1.4832,"a":25.8,"v":0.421}
]}},
{"mark":{"type":"area","interpolate":"basis","clip":true},
"data":{"values":[
{"f":1.1716,"a":0,"v":0.43},{"f":1.1753,"a":10,"v":0.43},{"f":1.1807,"a":20.5,"v":0.43},{"f":1.1862,"a":27.6,"v":0.43},{"f":1.1944,"a":32.5,"v":0.43},{"f":1.2062,"a":36.4,"v":0.43},{"f":1.2245,"a":37.8,"v":0.43},{"f":1.2664,"a":38.1,"v":0.43},{"f":1.2882,"a":37.9,"v":0.43},{"f":1.352,"a":36.4,"v":0.43},{"f":1.4094,"a":31.2,"v":0.43},{"f":1.4832,"a":25.1,"v":0.43},
{"f":1.1807,"a":0,"v":0.44},{"f":1.1853,"a":10,"v":0.44},{"f":1.1926,"a":20.5,"v":0.44},{"f":1.1999,"a":28,"v":0.44},{"f":1.2108,"a":33,"v":0.44},{"f":1.2245,"a":35.5,"v":0.44},{"f":1.2727,"a":36.3,"v":0.44},{"f":1.2882,"a":36.3,"v":0.44},{"f":1.352,"a":34.8,"v":0.44},{"f":1.4094,"a":30,"v":0.44},{"f":1.4832,"a":24.5,"v":0.44},
{"f":1.1917,"a":0,"v":0.449},{"f":1.1971,"a":10,"v":0.449},{"f":1.2044,"a":20.5,"v":0.449},{"f":1.2136,"a":27,"v":0.449},{"f":1.2263,"a":31.5,"v":0.449},{"f":1.2445,"a":33.7,"v":0.449},{"f":1.2791,"a":34.3,"v":0.449},{"f":1.352,"a":33.1,"v":0.449},{"f":1.4094,"a":28.9,"v":0.449},{"f":1.4832,"a":23.8,"v":0.449},
{"f":1.2026,"a":0,"v":0.459},{"f":1.209,"a":10,"v":0.459},{"f":1.2172,"a":20.5,"v":0.459},{"f":1.2272,"a":26.5,"v":0.459},{"f":1.2427,"a":30.2,"v":0.459},{"f":1.2609,"a":31.7,"v":0.459},{"f":1.2855,"a":32.2,"v":0.459},{"f":1.352,"a":31.3,"v":0.459},{"f":1.4094,"a":27.7,"v":0.459},{"f":1.4832,"a":23.1,"v":0.459},
{"f":1.2145,"a":0,"v":0.468},{"f":1.2217,"a":10,"v":0.468},{"f":1.2318,"a":20.5,"v":0.468},{"f":1.2427,"a":25.5,"v":0.468},{"f":1.2609,"a":28.7,"v":0.468},{"f":1.3056,"a":30.1,"v":0.468},{"f":1.352,"a":29.7,"v":0.468},{"f":1.4094,"a":26.6,"v":0.468},{"f":1.4832,"a":22.5,"v":0.468},
{"f":1.2263,"a":0,"v":0.477},{"f":1.2354,"a":10,"v":0.477},{"f":1.2491,"a":20.5,"v":0.477},{"f":1.2609,"a":24.5,"v":0.477},{"f":1.2837,"a":27.3,"v":0.477},{"f":1.3247,"a":28.3,"v":0.477},{"f":1.352,"a":28.1,"v":0.477},{"f":1.4094,"a":25.5,"v":0.477},{"f":1.4832,"a":21.8,"v":0.477},
{"f":1.2381,"a":0,"v":0.487},{"f":1.2491,"a":10,"v":0.487},{"f":1.2636,"a":20.5,"v":0.487},{"f":1.2791,"a":23.2,"v":0.487},{"f":1.2973,"a":25,"v":0.487},{"f":1.3384,"a":26.2,"v":0.487},{"f":1.4094,"a":24.4,"v":0.487},{"f":1.4832,"a":21.2,"v":0.487},
{"f":1.25,"a":0,"v":0.496},{"f":1.2646,"a":10,"v":0.496},{"f":1.2855,"a":20.5,"v":0.496},{"f":1.3019,"a":22.5,"v":0.496},{"f":1.3247,"a":23.8,"v":0.496},{"f":1.3502,"a":24.2,"v":0.496},{"f":1.4094,"a":23.2,"v":0.496},{"f":1.4832,"a":20.5,"v":0.496},
{"f":1.2655,"a":0,"v":0.506},{"f":1.2673,"a":10,"v":0.506},{"f":1.2727,"a":15.6,"v":0.506},{"f":1.2855,"a":18.6,"v":0.506},{"f":1.3019,"a":20.4,"v":0.506},{"f":1.3338,"a":21.7,"v":0.506},{"f":1.3702,"a":22.4,"v":0.506},{"f":1.4094,"a":22.1,"v":0.506},{"f":1.4832,"a":19.8,"v":0.506},
{"f":1.28,"a":0,"v":0.515},{"f":1.2809,"a":7,"v":0.515},{"f":1.2882,"a":13.5,"v":0.515},{"f":1.3019,"a":17,"v":0.515},{"f":1.3247,"a":19.5,"v":0.515},{"f":1.3702,"a":20.6,"v":0.515},{"f":1.4158,"a":20,"v":0.515},{"f":1.4832,"a":18.8,"v":0.515},
{"f":1.2946,"a":0,"v":0.525},{"f":1.3037,"a":5.8,"v":0.525},{"f":1.3183,"a":11,"v":0.525},{"f":1.3456,"a":15.6,"v":0.525},{"f":1.3766,"a":17.9,"v":0.525},{"f":1.4158,"a":18.9,"v":0.525},{"f":1.4522,"a":18.7,"v":0.525},{"f":1.4832,"a":17.7,"v":0.525},
{"f":1.3119,"a":0,"v":0.534},{"f":1.3201,"a":5.8,"v":0.534},{"f":1.3384,"a":11,"v":0.534},{"f":1.3639,"a":15,"v":0.534},{"f":1.3948,"a":16.8,"v":0.534},{"f":1.434,"a":17.3,"v":0.534},{"f":1.4832,"a":16.4,"v":0.534},
{"f":1.3293,"a":0,"v":0.544},{"f":1.3366,"a":5.1,"v":0.544},{"f":1.3538,"a":10,"v":0.544},{"f":1.3793,"a":13.3,"v":0.544},{"f":1.4094,"a":15.1,"v":0.544},{"f":1.4459,"a":15.6,"v":0.544},{"f":1.4832,"a":15,"v":0.544},
{"f":1.3475,"a":0,"v":0.553},{"f":1.3538,"a":4.5,"v":0.553},{"f":1.3684,"a":8.4,"v":0.553},{"f":1.3912,"a":11.4,"v":0.553},{"f":1.4249,"a":13.3,"v":0.553},{"f":1.4586,"a":13.8,"v":0.553},{"f":1.4832,"a":13.5,"v":0.553},
{"f":1.3666,"a":0,"v":0.563},{"f":1.373,"a":4.2,"v":0.563},{"f":1.3885,"a":7.4,"v":0.563},{"f":1.4094,"a":9.9,"v":0.563},{"f":1.4404,"a":11.7,"v":0.563},{"f":1.4832,"a":12.1,"v":0.563},
{"f":1.3875,"a":0,"v":0.572},{"f":1.3948,"a":3.8,"v":0.572},{"f":1.4094,"a":6.8,"v":0.572},{"f":1.4313,"a":8.7,"v":0.572},{"f":1.4586,"a":10.2,"v":0.572},{"f":1.4832,"a":10.7,"v":0.572},
{"f":1.4085,"a":0,"v":0.581},{"f":1.4158,"a":3.2,"v":0.581},{"f":1.4313,"a":5.8,"v":0.581},{"f":1.4522,"a":7.9,"v":0.581},{"f":1.4832,"a":9.2,"v":0.581},
{"f":1.4322,"a":0,"v":0.591},{"f":1.4367,"a":2.2,"v":0.591},{"f":1.4495,"a":4.8,"v":0.591},{"f":1.4677,"a":6.8,"v":0.591},{"f":1.4832,"a":7.4,"v":0.591},
{"f":1.4568,"a":0,"v":0.6},{"f":1.4631,"a":2.8,"v":0.6},{"f":1.4732,"a":4.5,"v":0.6},{"f":1.4832,"a":5.4,"v":0.6}
]}}]},
{"mark":{"type":"text","font":"Liberation Serif","fontSize":32.5,"baseline":"alphabetic"},"data":{"values":[{"f":1.2791,"a":41.94,"t":"Group Velocity (v"},{"f":1.424,"a":41.94,"t":"/c)"}]},"encoding":{"x":{"field":"f","type":"quantitative","scale":{"domain":[1.1145,1.4832]}},"y":{"field":"a","type":"quantitative","scale":{"domain":[0,40]}},"text":{"field":"t"}}},
{"mark":{"type":"text","font":"Liberation Serif","fontStyle":"italic","fontSize":24,"baseline":"alphabetic"},"data":{"values":[{"f":1.3976,"a":41.45,"t":"g"}]},"encoding":{"x":{"field":"f","type":"quantitative","scale":{"domain":[1.1145,1.4832]}},"y":{"field":"a","type":"quantitative","scale":{"domain":[0,40]}},"text":{"field":"t"}}}]}
]},
{"width":33,"height":410,
"mark":{"type":"rect","height":6.9,"clip":true},
"data":{"values":[{"v":0.005},{"v":0.014},{"v":0.024},{"v":0.033},{"v":0.043},{"v":0.052},{"v":0.061},{"v":0.071},{"v":0.08},{"v":0.09},{"v":0.099},{"v":0.109},{"v":0.118},{"v":0.128},{"v":0.137},{"v":0.147},{"v":0.156},{"v":0.165},{"v":0.175},{"v":0.184},{"v":0.194},{"v":0.203},{"v":0.213},{"v":0.222},{"v":0.232},{"v":0.241},{"v":0.251},{"v":0.26},{"v":0.269},{"v":0.279},{"v":0.288},{"v":0.298},{"v":0.307},{"v":0.317},{"v":0.326},{"v":0.336},{"v":0.345},{"v":0.355},{"v":0.364},{"v":0.373},{"v":0.383},{"v":0.392},{"v":0.402},{"v":0.411},{"v":0.421},{"v":0.43},{"v":0.44},{"v":0.449},{"v":0.459},{"v":0.468},{"v":0.477},{"v":0.487},{"v":0.496},{"v":0.506},{"v":0.515},{"v":0.525},{"v":0.534},{"v":0.544},{"v":0.553},{"v":0.563},{"v":0.572},{"v":0.581},{"v":0.591},{"v":0.6}]},
"encoding":{"y":{"field":"v","type":"quantitative","scale":{"domain":[0.0016,0.605],"zero":false},"axis":{"orient":"right","values":[0.1,0.2,0.3,0.4,0.5,0.6],"format":".1f","title":null,"tickSize":0,"labelPadding":5,"labelOffset":3,"domain":false}},
"color":{"field":"v","type":"quantitative","legend":null,"scale":{"type":"quantize","domain":[0,0.605],"range":["#000090","#0000A0","#0000B0","#0000C0","#0000D0","#0000E0","#0000F0","#0000FF","#0010FF","#0020FF","#0030FF","#0040FF","#0050FF","#0060FF","#0070FF","#0080FF","#0090FF","#00A0FF","#00B0FF","#00C0FF","#00D0FF","#00E0FF","#00F0FF","#00FFFF","#10FFF0","#20FFE0","#30FFD0","#40FFC0","#50FFB0","#60FFA0","#70FF90","#80FF80","#90FF70","#A0FF60","#B0FF50","#C0FF40","#D0FF30","#E0FF20","#F0FF10","#FFFF00","#FFF000","#FFE000","#FFD000","#FFC000","#FFB000","#FFA000","#FF9000","#FF8000","#FF7000","#FF6000","#FF5000","#FF4000","#FF3000","#FF2000","#FF1000","#FF0000","#F00000","#E00000","#D00000","#C00000","#B00000","#A00000","#900000","#800000"]}}}}
]}
